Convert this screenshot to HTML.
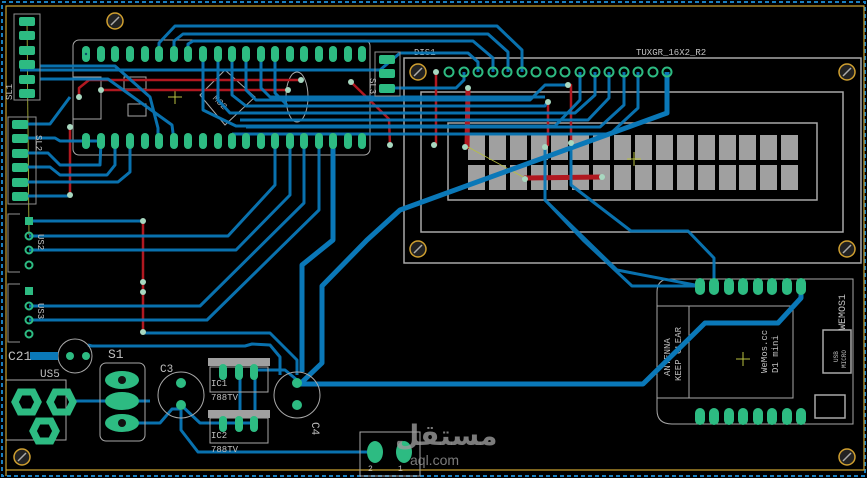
<!DOCTYPE html>
<html><head><meta charset="utf-8"><style>
html,body{margin:0;padding:0;background:#000;}
svg{display:block;font-family:"Liberation Mono",monospace;}
</style></head><body>
<svg width="867" height="478" viewBox="0 0 867 478" xmlns="http://www.w3.org/2000/svg">
<rect width="867" height="478" fill="#000"/>
<rect x="2" y="2" width="863" height="474" fill="none" stroke="#1a7fc0" stroke-width="2" stroke-dasharray="4,3"/>
<polyline points="6,476 6,6 864,6 864,470 6,470" fill="none" stroke="#c8a030" stroke-width="1.2"/>

<g fill="none" stroke="#a8a8a8" stroke-width="1.5">
<rect x="404" y="58" width="457" height="205"/>
<rect x="421" y="92" width="422" height="140"/>
<rect x="448" y="123" width="369" height="77"/>
</g>
<g fill="#a0a0a0">
<rect x="468" y="135" width="17" height="25"/><rect x="489" y="135" width="17" height="25"/><rect x="510" y="135" width="17" height="25"/><rect x="531" y="135" width="17" height="25"/><rect x="551" y="135" width="17" height="25"/><rect x="572" y="135" width="17" height="25"/><rect x="593" y="135" width="17" height="25"/><rect x="614" y="135" width="17" height="25"/><rect x="635" y="135" width="17" height="25"/><rect x="656" y="135" width="17" height="25"/><rect x="677" y="135" width="17" height="25"/><rect x="698" y="135" width="17" height="25"/><rect x="719" y="135" width="17" height="25"/><rect x="739" y="135" width="17" height="25"/><rect x="760" y="135" width="17" height="25"/><rect x="781" y="135" width="17" height="25"/>
<rect x="468" y="165" width="17" height="25"/><rect x="489" y="165" width="17" height="25"/><rect x="510" y="165" width="17" height="25"/><rect x="531" y="165" width="17" height="25"/><rect x="551" y="165" width="17" height="25"/><rect x="572" y="165" width="17" height="25"/><rect x="593" y="165" width="17" height="25"/><rect x="614" y="165" width="17" height="25"/><rect x="635" y="165" width="17" height="25"/><rect x="656" y="165" width="17" height="25"/><rect x="677" y="165" width="17" height="25"/><rect x="698" y="165" width="17" height="25"/><rect x="719" y="165" width="17" height="25"/><rect x="739" y="165" width="17" height="25"/><rect x="760" y="165" width="17" height="25"/><rect x="781" y="165" width="17" height="25"/>
</g>
<text x="414" y="55" fill="#c0c0c0" font-size="9">DIS1</text>
<text x="636" y="55" fill="#c0c0c0" font-size="9">TUXGR_16X2_R2</text>

<rect x="73" y="40" width="297" height="115" rx="6" fill="none" stroke="#a8a8a8" stroke-width="1"/>
<rect x="73" y="77" width="28" height="42" fill="none" stroke="#a8a8a8"/>
<ellipse cx="297" cy="97" rx="11" ry="25" fill="none" stroke="#a8a8a8"/>
<g stroke="#a8a8a8" fill="none"><rect x="124" y="77" width="22" height="12"/><rect x="128" y="104" width="18" height="12"/><path d="M200 95 L225 70 L255 97 L225 125 Z"/></g>
<text x="215" y="108" fill="#a8a8a8" font-size="9" transform="rotate(45 225 100)">M32</text>
<path d="M168 97h14M175 90v14" stroke="#b8c040"/>
<path d="M627 159h14M634 152v14" stroke="#b8c040"/>
<path d="M736 359h14M743 352v14" stroke="#b8c040"/>

<g fill="none" stroke="#a8a8a8" stroke-width="1">
<path d="M670 279 H853 V424 H672 Q657 424 657 410 V292 Q657 279 670 279 Z"/>
<line x1="657" y1="306" x2="793" y2="306"/><line x1="657" y1="398" x2="793" y2="398"/>
<rect x="689" y="306" width="104" height="92"/>
<rect x="823" y="330" width="28" height="43" stroke-width="1.5"/>
<rect x="815" y="395" width="30" height="23" stroke-width="1.5"/>
</g>
<g fill="#c0c0c0" font-size="9">
<text transform="translate(670 376) rotate(-90)">ANTENNA</text>
<text transform="translate(681 381) rotate(-90)">KEEP CLEAR</text>
<text transform="translate(767 373) rotate(-90)">WeMos.cc</text>
<text transform="translate(778 373) rotate(-90)">D1 mini</text>
<text transform="translate(845 330) rotate(-90)" font-size="10">WEMOS1</text>
<text transform="translate(838 362) rotate(-90)" font-size="6">USB</text>
<text transform="translate(846 368) rotate(-90)" font-size="6">MICRO</text>
</g>

<g fill="none" stroke="#b01820" stroke-width="2.5" stroke-linecap="round" stroke-linejoin="round">
<polyline points="79,97 79,88 89,80 301,80"/>
<polyline points="101,90 288,90"/>
<polyline points="70,127 70,195"/>
<polyline points="143,221 143,330"/>
<polyline points="351,82 389,119 390,145"/>
<polyline points="436,72 436,145"/>
<polyline points="548,102 548,145"/>
<polyline points="571,85 571,143"/>
<polyline points="468,88 467,147" stroke-width="5"/>
<polyline points="525,178 602,177" stroke-width="5"/>
</g>
<line x1="468" y1="147" x2="525" y2="178" stroke="#b8c040" stroke-width="0.8"/>
<line x1="27" y1="21" x2="29" y2="235" stroke="#b8c040" stroke-width="0.8"/>

<g fill="none" stroke="#0a78b8" stroke-width="3" stroke-linejoin="round" opacity="0.95">
<polyline points="159,54 159,43 175,26 497,26 522,50 522,72"/>
<polyline points="174,54 174,41 183,34 488,34 508,52 508,72"/>
<polyline points="188,54 188,44 193,41 473,41 493,58 493,72"/>
<polyline points="20,70 380,70 400,53 468,53 478,62 478,72"/>
<polyline points="40,66 115,66 150,97 158,128 158,141"/>
<polyline points="40,79 108,79 172,125 174,141"/>
<polyline points="203,54 203,110 236,126 555,126 580,100 580,72"/>
<polyline points="218,54 218,100 230,113 575,113 595,95 595,72"/>
<polyline points="232,54 232,95 246,106 545,106 548,100"/>
<polyline points="246,54 246,90 256,100 530,100 545,85 568,85"/>
<polyline points="261,54 261,88 270,97 545,97"/>
<polyline points="275,54 275,93 287,105"/>
<polyline points="385,88 430,88 456,88 464,80 464,72"/>
<polyline points="609,72 609,98 588,120 240,120"/>
<polyline points="624,72 624,105 600,127 246,127"/>
<polyline points="638,72 638,108 610,134 232,134"/>
<polyline points="20,124 50,124 70,97"/>
<polyline points="20,138 55,138 60,141 101,141"/>
<polyline points="20,153 48,153 60,165 100,165 101,141"/>
<polyline points="20,167 50,167 60,175 107,175 115,165 115,141"/>
<polyline points="20,182 118,182 130,172 130,141"/>
<polyline points="20,196 70,196"/>
<polyline points="275,141 275,185 228,236 29,236"/>
<polyline points="290,141 290,195 236,250 29,250"/>
<polyline points="304,141 304,203 200,306 29,306"/>
<polyline points="319,141 319,210 207,320 29,320"/>
<polyline points="29,221 143,221"/>
<polyline points="143,333 270,333 297,360 297,375"/>
<polyline points="88,345 92,346 245,346 252,344 270,345 280,357 280,375"/>
<polyline points="545,145 545,200 617,270 700,286"/>
<polyline points="545,200 583,240 632,286 700,286"/>
<polyline points="571,145 571,185 631,231 688,231 714,258 714,286"/>
<polyline points="75,401 150,401"/>
<polyline points="122,423 160,423 172,409 181,409"/>
<polyline points="181,405 200,423 250,423"/>
<polyline points="181,410 181,430 198,452 370,452"/>
<polyline points="240,370 240,423"/>
<polyline points="255,370 255,423"/>
<polyline points="255,370 285,370 297,380"/>
</g>
<g fill="none" stroke="#0a78b8" stroke-width="5" stroke-linejoin="round">
<polyline points="667,72 667,113 400,210 367,240 322,286 322,363 300,384 643,384 705,323 778,323 801,298 801,286"/>
<polyline points="333,141 333,240 302,265 302,372"/>
</g>

<g fill="#2dbb82">
<g id="tp">
<rect x="82" y="46" width="8" height="16" rx="4"/><rect x="97" y="46" width="8" height="16" rx="4"/><rect x="111" y="46" width="8" height="16" rx="4"/><rect x="126" y="46" width="8" height="16" rx="4"/><rect x="141" y="46" width="8" height="16" rx="4"/><rect x="155" y="46" width="8" height="16" rx="4"/><rect x="170" y="46" width="8" height="16" rx="4"/><rect x="184" y="46" width="8" height="16" rx="4"/><rect x="199" y="46" width="8" height="16" rx="4"/><rect x="214" y="46" width="8" height="16" rx="4"/><rect x="228" y="46" width="8" height="16" rx="4"/><rect x="242" y="46" width="8" height="16" rx="4"/><rect x="257" y="46" width="8" height="16" rx="4"/><rect x="271" y="46" width="8" height="16" rx="4"/><rect x="286" y="46" width="8" height="16" rx="4"/><rect x="300" y="46" width="8" height="16" rx="4"/><rect x="315" y="46" width="8" height="16" rx="4"/><rect x="329" y="46" width="8" height="16" rx="4"/><rect x="344" y="46" width="8" height="16" rx="4"/><rect x="358" y="46" width="8" height="16" rx="4"/>
</g>
<use href="#tp" y="87"/>
<g id="wp"><rect x="695" y="278" width="10" height="17" rx="5"/><rect x="709" y="278" width="10" height="17" rx="5"/><rect x="724" y="278" width="10" height="17" rx="5"/><rect x="738" y="278" width="10" height="17" rx="5"/><rect x="753" y="278" width="10" height="17" rx="5"/><rect x="767" y="278" width="10" height="17" rx="5"/><rect x="782" y="278" width="10" height="17" rx="5"/><rect x="796" y="278" width="10" height="17" rx="5"/></g>
<use href="#wp" y="130"/>
<rect x="19" y="17" width="16" height="9" rx="2"/><rect x="19" y="31" width="16" height="9" rx="2"/><rect x="19" y="46" width="16" height="9" rx="2"/><rect x="19" y="60" width="16" height="9" rx="2"/><rect x="19" y="75" width="16" height="9" rx="2"/><rect x="19" y="89" width="16" height="9" rx="2"/>
<rect x="12" y="120" width="16" height="9" rx="2"/><rect x="12" y="134" width="16" height="9" rx="2"/><rect x="12" y="149" width="16" height="9" rx="2"/><rect x="12" y="163" width="16" height="9" rx="2"/><rect x="12" y="178" width="16" height="9" rx="2"/><rect x="12" y="192" width="16" height="9" rx="2"/>
<rect x="379" y="55" width="16" height="9" rx="2"/><rect x="379" y="69" width="16" height="9" rx="2"/><rect x="379" y="84" width="16" height="9" rx="2"/>
<rect x="25" y="217" width="8" height="8"/><rect x="25" y="287" width="8" height="8"/>
</g>
<g fill="#0a4a6a">
<circle cx="86" cy="54" r="1.2"/>
</g>
<g fill="none" stroke="#909090" stroke-width="1">
<rect x="14" y="14" width="26" height="86"/><rect x="8" y="117" width="28" height="87"/><rect x="375" y="52" width="25" height="44"/>
<path d="M20 214h-12v58h12M20 284h-12v58h12"/>
</g>
<g fill="none" stroke="#2dbb82" stroke-width="2">
<circle cx="29" cy="236" r="3.5"/><circle cx="29" cy="250" r="3.5"/><circle cx="29" cy="265" r="3.5"/><circle cx="29" cy="306" r="3.5"/><circle cx="29" cy="320" r="3.5"/><circle cx="29" cy="334" r="3.5"/>
<circle cx="449" cy="72" r="4.5"/><circle cx="478" cy="72" r="4.5"/><circle cx="493" cy="72" r="4.5"/><circle cx="507" cy="72" r="4.5"/><circle cx="522" cy="72" r="4.5"/><circle cx="536" cy="72" r="4.5"/><circle cx="551" cy="72" r="4.5"/><circle cx="565" cy="72" r="4.5"/><circle cx="580" cy="72" r="4.5"/><circle cx="595" cy="72" r="4.5"/><circle cx="609" cy="72" r="4.5"/><circle cx="624" cy="72" r="4.5"/><circle cx="638" cy="72" r="4.5"/><circle cx="653" cy="72" r="4.5"/><circle cx="464" cy="72" r="4.5"/><circle cx="667" cy="72" r="4.5"/>
</g>
<g fill="#c0c0c0" font-size="9">
<text transform="translate(12 100) rotate(-90)">SL1</text>
<text transform="translate(36 135) rotate(90)">SL2</text>
<text transform="translate(370 78) rotate(90)">SL3</text>
<text transform="translate(38 234) rotate(90)">US2</text>
<text transform="translate(38 303) rotate(90)">US3</text>
</g>

<g fill="#a8d8c0">
<circle cx="79" cy="97" r="3"/><circle cx="101" cy="90" r="3"/><circle cx="301" cy="80" r="3"/><circle cx="288" cy="90" r="3"/><circle cx="70" cy="127" r="3"/><circle cx="70" cy="195" r="3"/><circle cx="143" cy="221" r="3"/><circle cx="143" cy="282" r="3"/><circle cx="143" cy="292" r="3"/><circle cx="143" cy="332" r="3"/><circle cx="351" cy="82" r="3"/><circle cx="390" cy="145" r="3"/><circle cx="436" cy="72" r="3"/><circle cx="434" cy="145" r="3"/><circle cx="468" cy="88" r="3"/><circle cx="465" cy="147" r="3"/><circle cx="548" cy="102" r="3"/><circle cx="545" cy="147" r="3"/><circle cx="568" cy="85" r="3"/><circle cx="571" cy="143" r="3"/><circle cx="525" cy="179" r="3"/><circle cx="602" cy="177" r="3"/>
</g>

<g fill="#222" stroke="#d0a030" stroke-width="1.5">
<circle cx="115" cy="21" r="8"/><circle cx="418" cy="72" r="8"/><circle cx="847" cy="72" r="8"/><circle cx="418" cy="249" r="8"/><circle cx="847" cy="249" r="8"/><circle cx="847" cy="457" r="8"/><circle cx="22" cy="457" r="8"/>
</g>
<g stroke="#aaa" stroke-width="1.5"><path d="M111 25l8-8M414 76l8-8M843 76l8-8M414 253l8-8M843 253l8-8M843 461l8-8M18 461l8-8"/></g>

<g fill="none" stroke="#a8a8a8" stroke-width="1">
<rect x="100" y="363" width="45" height="78" rx="6"/>
<circle cx="75" cy="356" r="17"/>
<circle cx="181" cy="395" r="23"/><circle cx="297" cy="395" r="23"/>
<rect x="210" y="367" width="58" height="25"/><rect x="210" y="418" width="58" height="25"/>
<rect x="360" y="432" width="60" height="44"/>
<path d="M6 380h60v60H6"/>
</g>
<rect x="208" y="358" width="62" height="8" fill="#a0a0a0"/>
<rect x="208" y="410" width="62" height="8" fill="#a0a0a0"/>
<g fill="none" stroke="#2dbb82" stroke-width="7">
<polygon points="20,392 33,392 38,402 33,412 20,412 15,402"/>
<polygon points="55,392 68,392 73,402 68,412 55,412 50,402"/>
<polygon points="38,421 51,421 56,431 51,441 38,441 33,431"/>
</g>
<g fill="#2dbb82">
<ellipse cx="122" cy="380" rx="17" ry="9"/><ellipse cx="122" cy="401" rx="17" ry="9"/><ellipse cx="122" cy="423" rx="17" ry="9"/>
<circle cx="181" cy="383" r="5"/><circle cx="181" cy="405" r="5"/>
<circle cx="297" cy="383" r="5"/><circle cx="297" cy="405" r="5"/>
<rect x="219" y="364" width="8" height="16" rx="4"/><rect x="235" y="364" width="8" height="16" rx="4"/><rect x="250" y="364" width="8" height="16" rx="4"/>
<rect x="219" y="416" width="8" height="16" rx="4"/><rect x="235" y="416" width="8" height="16" rx="4"/><rect x="250" y="416" width="8" height="16" rx="4"/>
<circle cx="70" cy="356" r="4"/><circle cx="86" cy="356" r="4"/>
<ellipse cx="375" cy="452" rx="8" ry="11"/><ellipse cx="404" cy="452" rx="8" ry="11"/>
</g>
<g fill="#111"><circle cx="122" cy="380" r="4"/><circle cx="122" cy="423" r="4"/></g>
<rect x="30" y="352" width="28" height="8" fill="#0a78b8"/>
<g fill="#c0c0c0" font-size="9">
<text x="108" y="358" font-size="13">S1</text>
<text x="8" y="360" font-size="13">C21</text>
<text x="40" y="377" font-size="11">US5</text>
<text x="211" y="386">IC1</text><text x="211" y="400">788TV</text>
<text x="211" y="438">IC2</text><text x="211" y="452">788TV</text>
<text x="160" y="372" font-size="11">C3</text>
<text transform="translate(312 422) rotate(90)" font-size="11">C4</text>
<text x="368" y="471" font-size="8">2</text><text x="398" y="471" font-size="8">1</text>
</g>
<text x="395" y="445" fill="#9a9a9a" fill-opacity="0.8" font-size="28" font-family="'DejaVu Sans',sans-serif" font-weight="bold">مستقل</text>
<text x="410" y="465" fill="#9a9a9a" fill-opacity="0.8" font-size="14" font-family="'Liberation Sans',sans-serif">aql.com</text>
</svg>
</body></html>
